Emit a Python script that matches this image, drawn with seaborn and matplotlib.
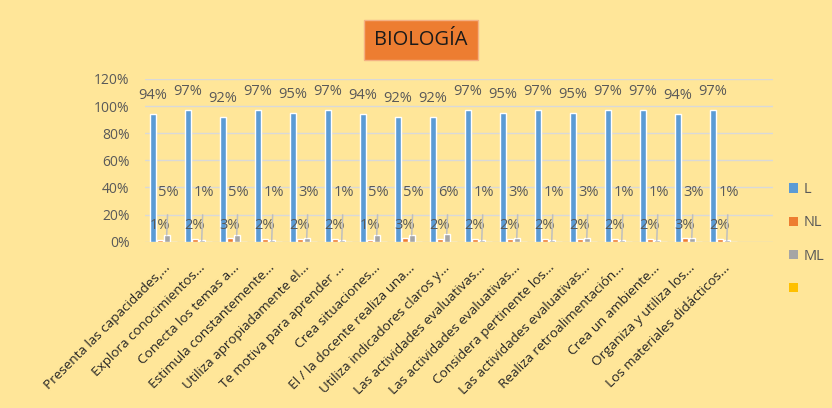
import matplotlib
matplotlib.use("Agg")
import matplotlib.pyplot as plt
from matplotlib.patches import Patch
import seaborn as sns
import pandas as pd

categorias = [
    "Presenta las capacidades,...",
    "Explora conocimientos...",
    "Conecta los temas a...",
    "Estimula constantemente...",
    "Utiliza apropiadamente el...",
    "Te motiva para aprender ...",
    "Crea situaciones...",
    "El / la docente realiza una...",
    "Utiliza indicadores claros y...",
    "Las actividades evaluativas...",
    "Las actividades evaluativas...",
    "Considera pertinente los...",
    "Las actividades evaluativas...",
    "Realiza retroalimentación...",
    "Crea un ambiente...",
    "Organiza y utiliza los...",
    "Los materiales didácticos...",
]
L = [94, 97, 92, 97, 95, 97, 94, 92, 92, 97, 95, 97, 95, 97, 97, 94, 97]
NL = [1, 2, 3, 2, 2, 2, 1, 3, 2, 2, 2, 2, 2, 2, 2, 3, 2]
ML = [5, 1, 5, 1, 3, 1, 5, 5, 6, 1, 3, 1, 3, 1, 1, 3, 1]
BLANK = [0] * len(categorias)
series = ["L", "NL", "ML", " "]
colores = ["#5B9BD5", "#ED7D31", "#A5A5A5", "#FFC000"]
yticks = [0, 0.2, 0.4, 0.6, 0.8, 1.0, 1.2]
ytick_labels = ["0%", "20%", "40%", "60%", "80%", "100%", "120%"]
titulo = "BIOLOGÍA"

rows = []
for i in range(len(categorias)):
    for s, vals in zip(series, [L, NL, ML, BLANK]):
        rows.append({"pos": i, "serie": s, "valor": vals[i] / 100})
df = pd.DataFrame(rows)

bg = "#FFE699"
txt = "#595959"
FONT = ["Open Sans", "DejaVu Sans"]

sns.set_theme(style="white")
plt.rcParams["font.family"] = FONT

fig = plt.figure(figsize=(8.32, 4.08), dpi=100, facecolor=bg)
ax = fig.add_axes([145 / 832, 1 - 241.7 / 408, 628 / 832, (241.7 - 79) / 408])
ax.set_facecolor(bg)

sns.barplot(data=df, x="pos", y="valor", hue="serie", hue_order=series,
            palette=colores, width=0.8, gap=0.2, legend=False, ax=ax,
            errorbar=None, saturation=1)

ax.set_ylim(0, 1.2)
ax.set_xlim(-0.52, 17.42)
ax.set_yticks(yticks)
ax.set_yticklabels(ytick_labels, fontsize=10, color=txt)
ax.set_xticks(range(len(categorias)))
ax.set_xticklabels(categorias, rotation=45, ha="right", rotation_mode="anchor",
                   fontsize=9.7, color="#262626")
ax.tick_params(axis="both", length=0)
ax.tick_params(axis="x", pad=14)
ax.tick_params(axis="y", pad=11)
ax.set_xlabel("")
ax.set_ylabel("")
ax.grid(axis="y", color="#D9D9D9", linewidth=1)
ax.set_axisbelow(True)
for sp in ax.spines.values():
    sp.set_visible(False)

# data labels
cont_L, cont_NL, cont_ML = ax.containers[0], ax.containers[1], ax.containers[2]
ax.bar_label(cont_L, labels=[f"{v}%" for v in L], padding=8, fontsize=10.5, color=txt)
for i in range(len(categorias)):
    bn = cont_NL[i]
    xn = bn.get_x() + bn.get_width() / 2
    ax.text(xn, 0.12, f"{NL[i]}%", ha="center", va="center", fontsize=10.5, color=txt)
    bm = cont_ML[i]
    xm = bm.get_x() + bm.get_width() / 2
    ax.annotate(f"{ML[i]}%", xy=(xm, ML[i] / 100), xytext=(xm + 0.05, 0.36),
                ha="center", va="center", fontsize=10.5, color=txt,
                arrowprops=dict(arrowstyle="-", color="#BFBFBF", lw=1.1,
                                shrinkA=8, shrinkB=0))

# legend
handles = [Patch(facecolor=c, edgecolor="none") for c in colores]
fig.legend(handles, series, loc="upper left", bbox_to_anchor=(776 / 832, 1 - 169 / 408),
           frameon=False, fontsize=10.5, labelcolor=txt, handlelength=0.6,
           handleheight=0.6, handletextpad=0.4, labelspacing=1.25)

# title box
fig.text(421 / 832, 1 - 40 / 408, titulo, ha="center", va="center", fontsize=14.5,
         color="#1a1a1a",
         bbox=dict(boxstyle="square,pad=0.5", facecolor="#ED7D31", edgecolor="#F4B183"))

fig.savefig("out.png", dpi=100, facecolor=bg)
